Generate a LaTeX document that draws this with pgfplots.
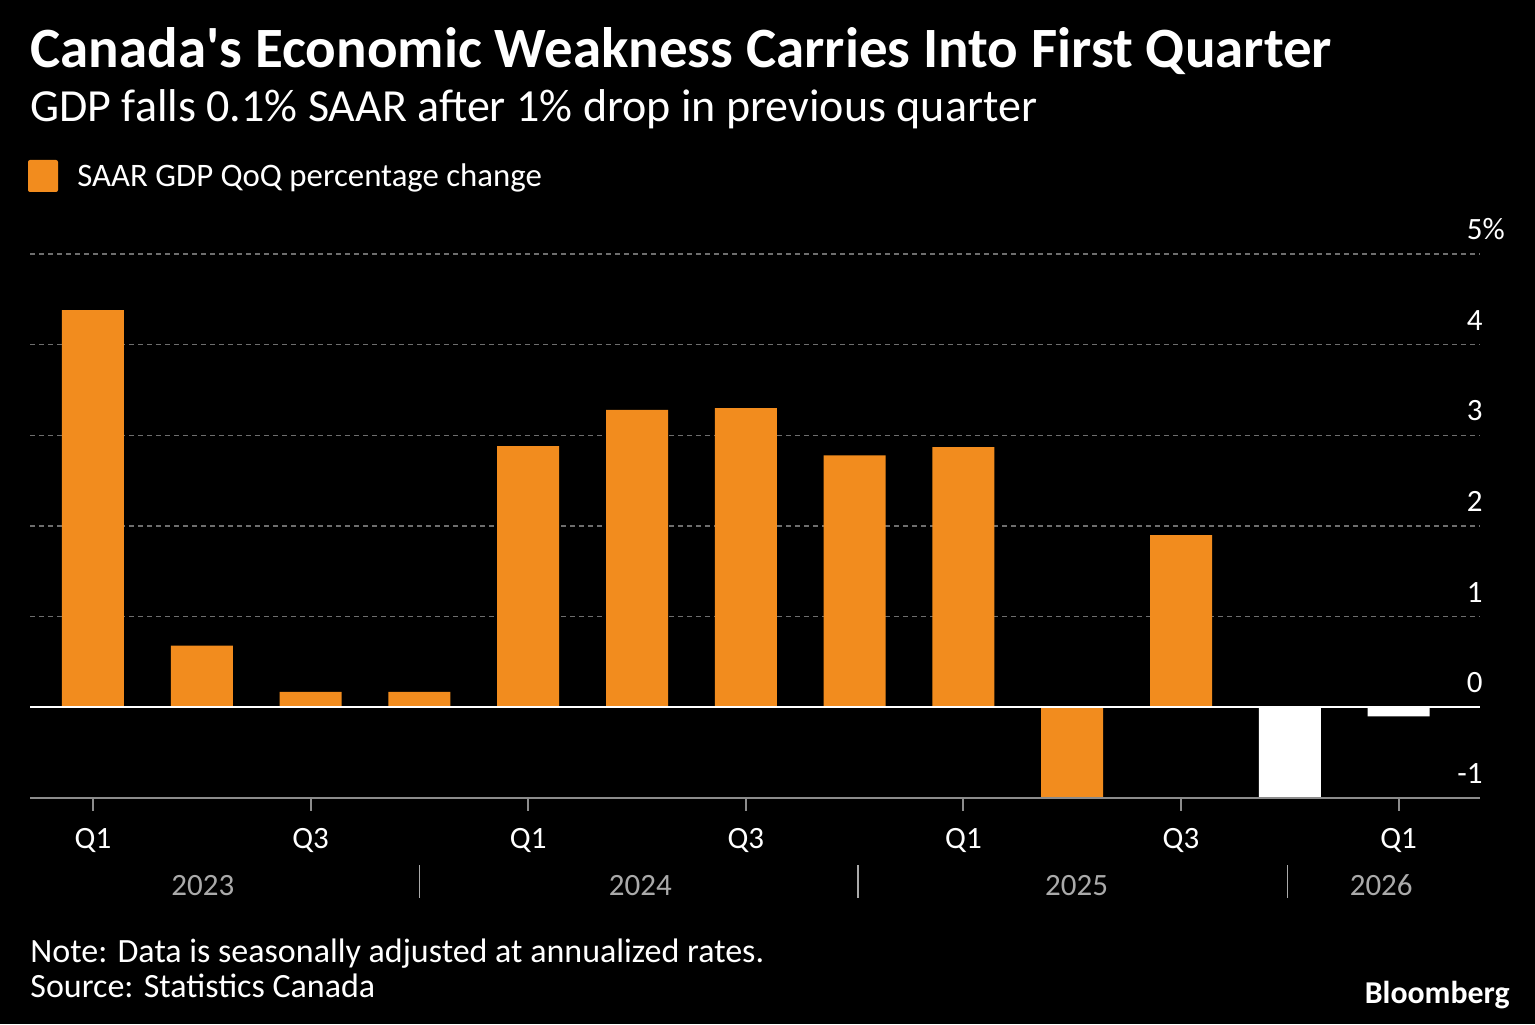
\documentclass[border=0pt]{standalone}
\usepackage{fontspec}
\setmainfont{Carlito}
\usepackage{pgfplots}
\pgfplotsset{compat=1.18}

\definecolor{barorange}{RGB}{242,140,30}
\definecolor{axisgray}{RGB}{140,140,140}
\definecolor{gridgray}{RGB}{110,110,110}
\definecolor{yeargray}{RGB}{170,170,170}

\newcommand{\ticksize}{\fontsize{15.5}{18}\selectfont}

\begin{document}
\begin{tikzpicture}
\fill[black] (0,0) rectangle (767.5pt,512pt);
\path[use as bounding box] (0,0) rectangle (767.5pt,512pt);

% headline, subtitle and legend
\node[anchor=base west, inner sep=0pt, text=white, font=\fontsize{28.5}{32}\selectfont\bfseries]
  at (15pt,478pt) {Canada\textquotesingle s Economic Weakness Carries Into First Quarter};
\node[anchor=base west, inner sep=0pt, text=white, font=\fontsize{23}{27}\selectfont]
  at (15pt,451pt) {GDP falls 0.1\% SAAR after 1\% drop in previous quarter};
\fill[barorange, rounded corners=1pt] (14pt,416pt) rectangle (29pt,432pt);
\node[anchor=base west, inner sep=0pt, text=white, font=\fontsize{16.4}{19}\selectfont]
  at (38.5pt,418.5pt) {SAAR GDP QoQ percentage change};

\begin{axis}[
  at={(15pt,113pt)}, anchor=south west,
  scale only axis, width=725pt, height=272pt,
  xmin=-0.579, xmax=12.748, ymin=-1, ymax=5,
  clip=false,
  axis line style={draw=none},
  xtick=\empty,
  ytick={-1,0,...,5},
  yticklabels={-1,0,1,2,3,4,5\rlap{\%}},
  y tick style={draw=none},
  major tick length=0pt,
  yticklabel pos=right,
  yticklabel style={anchor=base east, inner sep=0pt, xshift=1.5pt, yshift=7.3pt,
    text=white, font=\ticksize},
  ymajorgrids,
  grid style={gridgray, line width=0.6pt, dash pattern=on 2.5pt off 2pt},
  ybar, bar width=31pt, bar shift=0pt,
]
% quarterly annualized GDP growth
\addplot[fill=barorange, draw=none] coordinates {
  (0,4.38) (1,0.68) (2,0.17) (3,0.17) (4,2.88) (5,3.28)
  (6,3.30) (7,2.78) (8,2.87) (9,-1.0) (10,1.90)
};
\addplot[fill=white, draw=none] coordinates {
  (11,-1.0) (12,-0.1)
};

% zero line and baseline
\draw[white, line width=1pt] (axis cs:-0.579,0) -- (axis cs:12.748,0);
\draw[axisgray, line width=1pt] (axis cs:-0.579,-1) -- (axis cs:12.748,-1);

% quarter tick marks
\draw[axisgray, line width=1pt] (axis cs:0,-1) -- ([yshift=-6.5pt]axis cs:0,-1);
\draw[axisgray, line width=1pt] (axis cs:2,-1) -- ([yshift=-6.5pt]axis cs:2,-1);
\draw[axisgray, line width=1pt] (axis cs:4,-1) -- ([yshift=-6.5pt]axis cs:4,-1);
\draw[axisgray, line width=1pt] (axis cs:6,-1) -- ([yshift=-6.5pt]axis cs:6,-1);
\draw[axisgray, line width=1pt] (axis cs:8,-1) -- ([yshift=-6.5pt]axis cs:8,-1);
\draw[axisgray, line width=1pt] (axis cs:10,-1) -- ([yshift=-6.5pt]axis cs:10,-1);
\draw[axisgray, line width=1pt] (axis cs:12,-1) -- ([yshift=-6.5pt]axis cs:12,-1);

% quarter labels
\node[anchor=base, inner sep=0pt, text=white, font=\ticksize, yshift=-25pt] at (axis cs:0,-1) {Q1};
\node[anchor=base, inner sep=0pt, text=white, font=\ticksize, yshift=-25pt] at (axis cs:2,-1) {Q3};
\node[anchor=base, inner sep=0pt, text=white, font=\ticksize, yshift=-25pt] at (axis cs:4,-1) {Q1};
\node[anchor=base, inner sep=0pt, text=white, font=\ticksize, yshift=-25pt] at (axis cs:6,-1) {Q3};
\node[anchor=base, inner sep=0pt, text=white, font=\ticksize, yshift=-25pt] at (axis cs:8,-1) {Q1};
\node[anchor=base, inner sep=0pt, text=white, font=\ticksize, yshift=-25pt] at (axis cs:10,-1) {Q3};
\node[anchor=base, inner sep=0pt, text=white, font=\ticksize, yshift=-25pt] at (axis cs:12,-1) {Q1};

% year labels and separators
\node[anchor=base, inner sep=0pt, text=yeargray, font=\ticksize, yshift=-48.5pt] at (axis cs:1.01,-1) {2023};
\node[anchor=base, inner sep=0pt, text=yeargray, font=\ticksize, yshift=-48.5pt] at (axis cs:5.03,-1) {2024};
\node[anchor=base, inner sep=0pt, text=yeargray, font=\ticksize, yshift=-48.5pt] at (axis cs:9.04,-1) {2025};
\node[anchor=base, inner sep=0pt, text=yeargray, font=\ticksize, yshift=-48.5pt] at (axis cs:11.84,-1) {2026};
\draw[yeargray, line width=0.8pt] ([yshift=-33.5pt]axis cs:3.0,-1) -- ([yshift=-50pt]axis cs:3.0,-1);
\draw[yeargray, line width=0.8pt] ([yshift=-33.5pt]axis cs:7.03,-1) -- ([yshift=-50pt]axis cs:7.03,-1);
\draw[yeargray, line width=0.8pt] ([yshift=-33.5pt]axis cs:10.98,-1) -- ([yshift=-50pt]axis cs:10.98,-1);
\end{axis}

% footnotes
\node[anchor=base west, inner sep=0pt, text=white, font=\fontsize{17}{20}\selectfont]
  at (15pt,31pt) {Note: Data is seasonally adjusted at annualized rates.};
\node[anchor=base west, inner sep=0pt, text=white, font=\fontsize{17}{20}\selectfont]
  at (15pt,13.5pt) {Source: Statistics Canada};
\node[anchor=base east, inner sep=0pt, text=white, font=\fontsize{15.9}{18}\selectfont\bfseries]
  at (755pt,10.5pt) {Bloomberg};
\end{tikzpicture}
\end{document}
